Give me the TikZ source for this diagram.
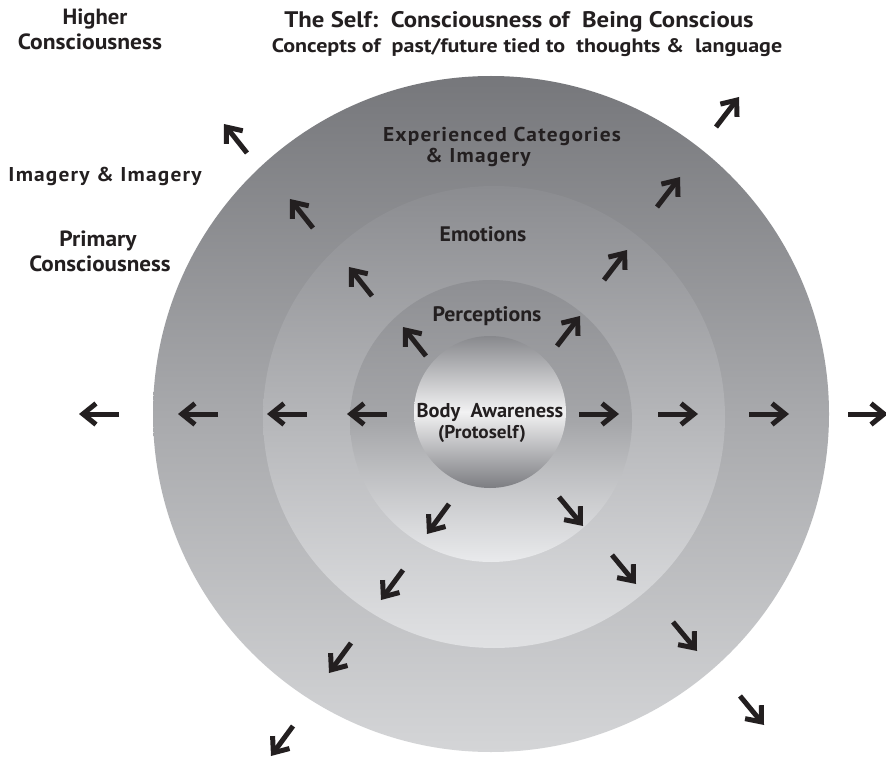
\documentclass[tikz,border=0pt]{standalone}
\usepackage{fontspec}
\setmainfont{PT Sans}
\usetikzlibrary{arrows.meta}
\definecolor{ink}{HTML}{231F20}
\definecolor{oT}{HTML}{76777B}\definecolor{oM}{HTML}{A8A9AC}\definecolor{oB}{HTML}{D4D5D7}
\definecolor{sT}{HTML}{8B8C90}\definecolor{sM}{HTML}{B5B6B9}\definecolor{sB}{HTML}{E0E1E3}
\definecolor{tT}{HTML}{8E8F93}\definecolor{tM}{HTML}{A5A6A9}\definecolor{tB}{HTML}{E9EAEC}
\definecolor{iT}{HTML}{88898D}\definecolor{iM}{HTML}{F2F2F3}\definecolor{iB}{HTML}{7C7D81}
\begin{document}
\begin{tikzpicture}[x=1pt,y=-1pt,
  lbl/.style args={#1/#2}{anchor=base,inner sep=0pt,text=ink,font=\bfseries\fontsize{#1}{#1}\selectfont\addfontfeatures{FakeStretch=#2}},
  slbl/.style args={#1/#2}{anchor=base,inner sep=0pt,text=ink,font=\bfseries\fontsize{#1}{#1}\selectfont\addfontfeatures{FakeStretch=#2,LetterSpace=6}},
  arr/.style={draw=ink,line width=5pt,-{Straight Barb[length=13pt,width=21pt]}}]
\useasboundingbox[fill=white] (0,0) rectangle (886,759);
% rings
\shade[top color=oT,bottom color=oB,middle color=oM] (491,414) circle[radius=338pt];
\shade[top color=sT,bottom color=sB,middle color=sM] (494,417) circle[radius=231pt];
\shade[top color=tT,bottom color=tB,middle color=tM] (491,421) circle[radius=141pt];
\shade[top color=iT,bottom color=iB,middle color=iM] (490,412) circle[radius=76pt];
% texts
\node[lbl=22/1.03] (higher1) at (95,25) {Higher};
\node[lbl=22/1.07] (higher2) at (90,50) {Consciousness};
\node[lbl=22.5/1.10] (title1) at (519,28) {The Self:\ \ Consciousness of\ \ Being Conscious};
\node[lbl=19.5/1.13] (title2) at (527,53) {Concepts of\ \ past/future tied to\ \ thoughts \&\ \ language};
\node[slbl=20/1.07] (imag) at (105,182) {Imagery \& Imagery};
\node[lbl=22/1.065] (prim1) at (98,247) {Primary};
\node[lbl=22/1.05] (prim2) at (100,272) {Consciousness};
\node[slbl=20/1.07] (exp1) at (502,142) {Experienced Categories};
\node[slbl=20/1.07] (exp2) at (478,163) {\& Imagery};
\node[lbl=21/1.035] (emo) at (483,242) {Emotions};
\node[lbl=21/1.04] (perc) at (487,321) {Perceptions};
\node[lbl=20/1.02] (body1) at (490,417) {Body\ \ Awareness};
\node[lbl=18.5/1.04] (body2) at (482,438) {(Protoself)};
% arrows: left
\foreach \n/\x in {1/119,2/218,3/307,4/387}{
  \coordinate (lt\n) at (\x,414); \coordinate (lh\n) at (\x-40,414);
  \draw[arr] (lt\n) -- (lh\n);}
% right
\foreach \n/\x in {1/579,2/658,3/749,4/848}{
  \coordinate (rt\n) at (\x,414); \coordinate (rh\n) at (\x+40,414);
  \draw[arr] (rt\n) -- (rh\n);}
% north-west (tips)
\foreach \n/\x/\y in {1/403/327,2/349/267,3/290/199,4/224/124}{
  \coordinate (nwh\n) at (\x,\y); \coordinate (nwt\n) at (\x+23,\y+29);
  \draw[arr] (nwt\n) -- (nwh\n);}
% north-east (tips)
\foreach \n/\x/\y in {1/580/316,2/627/250,3/680/177,4/739/97}{
  \coordinate (neh\n) at (\x,\y); \coordinate (net\n) at (\x-23,\y+30);
  \draw[arr] (net\n) -- (neh\n);}
% south-west (tails)
\foreach \n/\x/\y in {1/449/504,2/403/570,3/351/643,4/293/726}{
  \coordinate (swt\n) at (\x,\y); \coordinate (swh\n) at (\x-22,\y+30);
  \draw[arr] (swt\n) -- (swh\n);}
% south-east (tails)
\foreach \n/\x/\y in {1/559/497,2/612/555,3/673/622,4/740/696}{
  \coordinate (set\n) at (\x,\y); \coordinate (seh\n) at (\x+24,\y+29);
  \draw[arr] (set\n) -- (seh\n);}
\end{tikzpicture}
\end{document}
